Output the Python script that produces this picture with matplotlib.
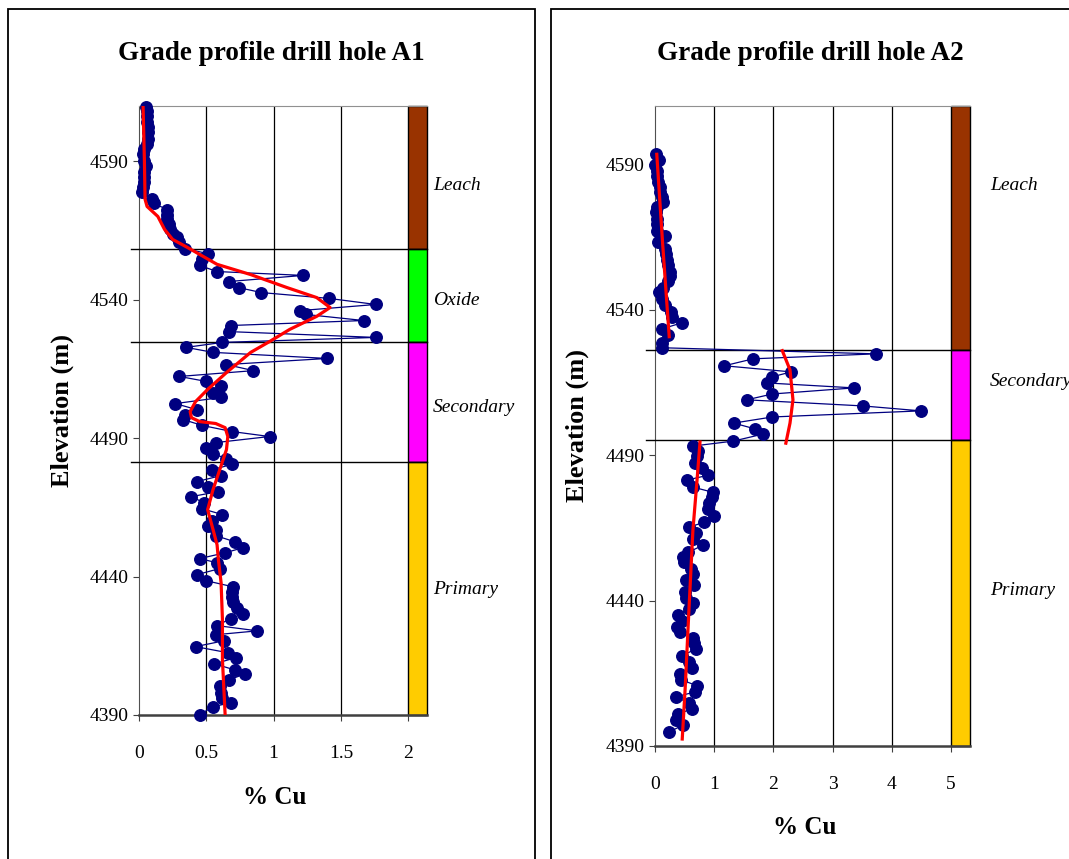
import matplotlib
matplotlib.use('Agg')
import matplotlib.pyplot as plt
from matplotlib.patches import Rectangle

plt.rcParams['font.family'] = ['Liberation Serif', 'DejaVu Serif']

# drill hole A1 assays (elevation m, % Cu)
a1_elev = [4609.5, 4608.1, 4606.3, 4604.1, 4602.3, 4600.5, 4598.0, 4596.1, 4594.3, 4592.5,
           4590.0, 4588.2, 4586.0, 4584.2, 4582.4, 4580.6, 4578.8, 4576.3, 4574.8, 4572.6,
           4570.8, 4569.0, 4567.2, 4565.4, 4563.6, 4562.5, 4560.7, 4558.5, 4556.7, 4554.6,
           4552.4, 4550.2, 4548.8, 4546.6, 4544.4, 4542.6, 4540.5, 4538.3, 4536.1, 4534.7,
           4532.5, 4530.7, 4528.5, 4526.4, 4524.6, 4522.8, 4521.0, 4518.8, 4516.6, 4514.4,
           4512.3, 4510.5, 4508.7, 4506.5, 4504.7, 4502.5, 4500.3, 4498.2, 4496.7, 4494.6,
           4492.4, 4490.6, 4488.4, 4486.6, 4484.4, 4482.6, 4480.5, 4478.6, 4476.5, 4474.3,
           4472.5, 4470.7, 4468.9, 4466.7, 4464.5, 4462.4, 4460.2, 4458.4, 4457.0, 4454.8,
           4452.6, 4450.4, 4448.6, 4446.5, 4445.0, 4442.9, 4440.7, 4438.5, 4436.3, 4434.5,
           4432.7, 4430.9, 4428.8, 4426.6, 4424.8, 4422.3, 4420.4, 4419.0, 4416.8, 4414.7,
           4412.5, 4410.7, 4408.5, 4406.3, 4404.9, 4402.7, 4400.6, 4398.0, 4396.2, 4394.4,
           4393.0, 4390.1]
a1_cu = [0.05, 0.06, 0.06, 0.06, 0.07, 0.07, 0.07, 0.06, 0.04, 0.03,
         0.04, 0.05, 0.04, 0.04, 0.04, 0.03, 0.02, 0.10, 0.11, 0.21,
         0.21, 0.21, 0.22, 0.23, 0.25, 0.28, 0.30, 0.34, 0.51, 0.47,
         0.45, 0.58, 1.22, 0.67, 0.74, 0.91, 1.41, 1.76, 1.20, 1.24,
         1.67, 0.68, 0.67, 1.76, 0.62, 0.35, 0.55, 1.40, 0.65, 0.85,
         0.30, 0.50, 0.61, 0.55, 0.61, 0.27, 0.43, 0.34, 0.33, 0.47,
         0.69, 0.97, 0.57, 0.50, 0.55, 0.65, 0.69, 0.54, 0.61, 0.43,
         0.51, 0.59, 0.39, 0.48, 0.47, 0.62, 0.54, 0.51, 0.57, 0.57,
         0.71, 0.77, 0.64, 0.45, 0.58, 0.60, 0.43, 0.50, 0.70, 0.69,
         0.69, 0.70, 0.73, 0.77, 0.68, 0.58, 0.88, 0.57, 0.63, 0.42,
         0.66, 0.72, 0.56, 0.71, 0.79, 0.67, 0.60, 0.61, 0.62, 0.68,
         0.55, 0.45]
a1_trend_elev = [4610.2, 4590.7, 4576.3, 4573.7, 4571.9, 4570.1, 4565.4, 4561.8, 4558.9, 4552.8,
                 4549.1, 4544.4, 4540.8, 4537.2, 4534.0, 4529.3, 4524.9, 4521.0, 4513.7, 4507.6,
                 4503.2, 4499.6, 4497.4, 4496.0, 4495.3, 4493.8, 4490.6, 4485.9, 4478.6, 4471.4,
                 4464.2, 4457.0, 4451.5, 4446.1, 4437.8, 4424.4, 4410.0, 4390.1]
a1_trend_cu = [0.03, 0.04, 0.045, 0.06, 0.10, 0.14, 0.19, 0.25, 0.36, 0.58,
               0.83, 1.10, 1.32, 1.42, 1.32, 1.12, 0.97, 0.83, 0.65, 0.51,
               0.42, 0.38, 0.39, 0.45, 0.57, 0.64, 0.66, 0.65, 0.60, 0.55,
               0.51, 0.55, 0.58, 0.59, 0.61, 0.62, 0.62, 0.64]
a1_zones = ['Leach', 'Oxide', 'Secondary', 'Primary']
a1_zone_top = [4610, 4558.5, 4524.6, 4481.5]
a1_zone_bottom = [4558.5, 4524.6, 4481.5, 4390]
a1_label_elev = [4581.3, 4539.7, 4501.1, 4435.3]

# drill hole A2 assays
a2_elev = [4593.4, 4591.4, 4589.7, 4587.6, 4585.9, 4583.8, 4582.1, 4580.3, 4578.6, 4576.9,
           4575.2, 4573.4, 4571.0, 4569.3, 4567.2, 4565.2, 4563.1, 4561.0, 4559.0, 4557.2,
           4555.2, 4553.1, 4551.4, 4549.7, 4547.6, 4545.9, 4543.8, 4541.7, 4539.3, 4537.6,
           4535.5, 4533.4, 4531.4, 4528.6, 4526.9, 4524.8, 4523.1, 4520.7, 4518.6, 4516.9,
           4514.8, 4513.1, 4511.0, 4509.0, 4506.9, 4505.2, 4503.1, 4501.0, 4499.0, 4497.2,
           4494.8, 4493.1, 4491.4, 4489.7, 4487.2, 4485.5, 4483.1, 4481.4, 4479.0, 4477.2,
           4475.5, 4473.4, 4471.4, 4469.0, 4466.9, 4465.2, 4463.1, 4461.0, 4459.0, 4456.6,
           4454.8, 4453.1, 4451.0, 4449.0, 4446.9, 4445.2, 4442.8, 4441.0, 4439.0, 4437.2,
           4435.2, 4433.1, 4431.0, 4429.3, 4427.2, 4425.5, 4423.4, 4421.0, 4419.0, 4416.9,
           4414.8, 4412.8, 4410.7, 4408.6, 4406.9, 4404.8, 4402.8, 4401.0, 4399.0, 4397.2,
           4394.8]
a2_cu = [0.02, 0.07, 0.00, 0.03, 0.03, 0.05, 0.08, 0.08, 0.12, 0.14,
         0.03, 0.02, 0.03, 0.03, 0.03, 0.17, 0.05, 0.17, 0.19, 0.20,
         0.22, 0.25, 0.25, 0.22, 0.14, 0.07, 0.12, 0.17, 0.27, 0.29,
         0.46, 0.12, 0.22, 0.12, 0.12, 3.73, 1.66, 1.17, 2.30, 1.98,
         1.89, 3.36, 1.98, 1.55, 3.51, 4.49, 1.98, 1.33, 1.69, 1.82,
         1.32, 0.64, 0.73, 0.71, 0.68, 0.79, 0.90, 0.54, 0.64, 0.98,
         0.96, 0.91, 0.90, 1.00, 0.83, 0.57, 0.69, 0.64, 0.81, 0.56,
         0.47, 0.49, 0.61, 0.64, 0.52, 0.66, 0.51, 0.52, 0.64, 0.57,
         0.39, 0.46, 0.37, 0.42, 0.64, 0.66, 0.69, 0.46, 0.58, 0.63,
         0.42, 0.44, 0.71, 0.68, 0.35, 0.57, 0.63, 0.39, 0.35, 0.47,
         0.24]
# trend fitted separately in each zone
a2_trend = [
    ([4593.4, 4562.4, 4530.7], [0.03, 0.13, 0.24]),
    ([4525.9, 4519.3, 4509.0, 4501.0, 4494.1], [2.15, 2.28, 2.33, 2.28, 2.21]),
    ([4494.5, 4481.4, 4464.1, 4435.5, 4410.0, 4392.4], [0.76, 0.71, 0.64, 0.57, 0.51, 0.46]),
]
a2_zones = ['Leach', 'Secondary', 'Primary']
a2_zone_top = [4610, 4526.2, 4495.2]
a2_zone_bottom = [4526.2, 4495.2, 4390]
a2_label_elev = [4582.8, 4515.2, 4443.4]

zone_colors = {'Leach': '#993300', 'Oxide': '#00FF00',
               'Secondary': '#FF00FF', 'Primary': '#FFCC00'}

W, H = 1069, 859
fig = plt.figure(figsize=(W / 100, H / 100), dpi=100)


def fx(px):
    return px / W


def fy(py):
    return 1 - py / H


def draw_hole(rect, elev, cu, trends, zones, tops, bottoms, label_elev,
              xmax, bar_w, xticks, line_x0, label_x):
    ax = fig.add_axes(rect)
    ax.set_xlim(0, xmax + bar_w)
    ax.set_ylim(4390, 4610)
    for xv in xticks[1:-1]:
        ax.axvline(xv, color='black', lw=0.9, zorder=1)
    for name, t, b, le in zip(zones, tops, bottoms, label_elev):
        ax.add_patch(Rectangle((xmax, b), bar_w, t - b, fc=zone_colors[name],
                               ec='black', lw=1, zorder=2, clip_on=False))
        ax.text(label_x, le, name, style='italic', fontsize=14,
                ha='left', va='center', clip_on=False)
    for b in bottoms[:-1]:
        ax.plot([line_x0, xmax + bar_w], [b, b], color='black', lw=1,
                zorder=3, clip_on=False)
    ax.plot(cu, elev, color='#000080', lw=0.9, marker='o', ms=8.3,
            mfc='#000080', mec='#000080', zorder=4, clip_on=False)
    for te, tc in trends:
        ax.plot(tc, te, color='#FF0000', lw=2.3, zorder=5)
    ax.set_xticks(xticks)
    ax.set_xticklabels([f'{v:g}' for v in xticks])
    ax.set_yticks([4390, 4440, 4490, 4540, 4590])
    ax.tick_params(axis='both', labelsize=14, direction='out', length=4.5,
                   color='#404040')
    ax.tick_params(axis='x', pad=17)
    ax.tick_params(axis='y', pad=3)
    ax.spines['right'].set_visible(False)
    ax.spines['top'].set_color('#909090')
    ax.spines['left'].set_color('#505050')
    ax.spines['bottom'].set_color('#404040')
    ax.spines['bottom'].set_linewidth(1.8)
    return ax


ax1 = draw_hole([fx(139), fy(715), fx(427 - 139), (715 - 106) / H],
                a1_elev, a1_cu, [(a1_trend_elev, a1_trend_cu)],
                a1_zones, a1_zone_top, a1_zone_bottom, a1_label_elev,
                2.0, 0.14, [0, 0.5, 1, 1.5, 2], -0.06, 2.186)
ax1.text(0.47, -0.136, '% Cu', transform=ax1.transAxes, fontsize=18,
         fontweight='bold', ha='center', va='center')
ax1.text(-0.267, 0.5, 'Elevation (m)', transform=ax1.transAxes, fontsize=19,
         fontweight='bold', ha='center', va='center', rotation=90)

ax2 = draw_hole([fx(655), fy(746), fx(970 - 655), (746 - 106) / H],
                a2_elev, a2_cu, a2_trend,
                a2_zones, a2_zone_top, a2_zone_bottom, a2_label_elev,
                5.0, 0.32, [0, 1, 2, 3, 4, 5], -0.15, 5.66)
ax2.text(0.476, -0.128, '% Cu', transform=ax2.transAxes, fontsize=18,
         fontweight='bold', ha='center', va='center')
ax2.text(-0.248, 0.5, 'Elevation (m)', transform=ax2.transAxes, fontsize=19,
         fontweight='bold', ha='center', va='center', rotation=90)

fig.text(fx(271), fy(53), 'Grade profile drill hole A1', fontsize=19.5,
         fontweight='bold', ha='center', va='center')
fig.text(fx(810), fy(53), 'Grade profile drill hole A2', fontsize=19.5,
         fontweight='bold', ha='center', va='center')

# panel frames
fig.add_artist(Rectangle((fx(8), -0.05), fx(535 - 8), fy(9) + 0.05,
                         transform=fig.transFigure, fill=False, ec='black', lw=1.3))
fig.add_artist(Rectangle((fx(551), -0.05), 0.6, fy(9) + 0.05,
                         transform=fig.transFigure, fill=False, ec='black', lw=1.3))

fig.savefig('out.png', dpi=100)
